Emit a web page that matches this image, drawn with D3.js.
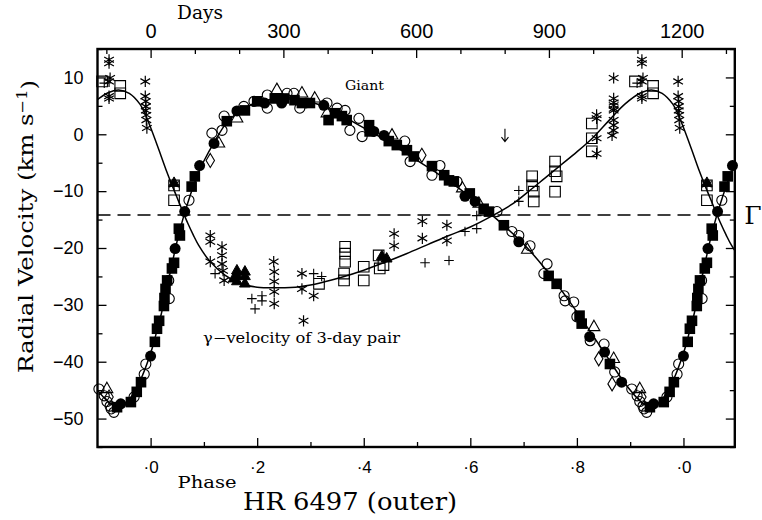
<!DOCTYPE html>
<html>
<head>
<meta charset="utf-8">
<script src="https://cdn.jsdelivr.net/npm/d3@7"></script>
<style>
  html, body { margin: 0; padding: 0; background: #fff; }
  svg { display: block; }
</style>
</head>
<body>
<svg id="chart" width="762" height="520"></svg>
<script>
// Orbital period of the outer orbit (days) and the plotted time window
const period = 1204;
const dayWindow = [-120, 1320];
const velWindow = [-55, 15];

// Tick values
const dayMajor = [0, 300, 600, 900, 1200];
const dayMinor = [-100, 100, 200, 400, 500, 700, 800, 1000, 1100, 1300];
const phaseMajor = [0, 0.2, 0.4, 0.6, 0.8, 1.0];
const phaseMinor = [-0.1, 0.1, 0.3, 0.5, 0.7, 0.9, 1.1];
const velMajor = [-50, -40, -30, -20, -10, 0, 10];
const velMinor = [-55, -45, -35, -25, -15, -5, 5, 15];

// Systemic velocity of the whole system (km/s)
const gammaSystem = -14.2;

// Fitted orbit of the giant: [phase, velocity]
const giantCurve = [
  [0.000, -38.5], [0.010, -35.2], [0.020, -31.6], [0.030, -27.3], [0.040, -22.9],
  [0.050, -18.7], [0.060, -15.1], [0.070, -12.0], [0.080, -9.2], [0.090, -6.7],
  [0.100, -4.7], [0.120, -1.3], [0.140, 1.7], [0.160, 3.6], [0.180, 4.8],
  [0.200, 5.6], [0.230, 6.1], [0.260, 6.2], [0.290, 5.9], [0.320, 5.1],
  [0.350, 3.8], [0.380, 2.2], [0.410, 0.6], [0.440, -1.0], [0.470, -2.8],
  [0.500, -4.6], [0.540, -7.0], [0.580, -9.6], [0.620, -12.6], [0.660, -15.8],
  [0.700, -19.3], [0.740, -23.6], [0.780, -28.6], [0.820, -34.0], [0.860, -39.6],
  [0.890, -43.8], [0.920, -47.0], [0.940, -48.0], [0.960, -46.6], [0.980, -43.4]
];

// Fitted centre-of-mass velocity of the 3-day pair: [phase, velocity]
const pairCurve = [
  [0.000, 1.2], [0.010, -1.3], [0.020, -3.9], [0.030, -6.5], [0.040, -8.9],
  [0.050, -11.2], [0.060, -13.5], [0.070, -15.7], [0.080, -17.7], [0.090, -19.5],
  [0.110, -22.2], [0.140, -24.8], [0.170, -26.3], [0.200, -26.9], [0.240, -27.0],
  [0.280, -26.8], [0.320, -26.1], [0.360, -25.1], [0.400, -23.9], [0.440, -22.5],
  [0.480, -21.0], [0.520, -19.4], [0.560, -17.8], [0.600, -16.3], [0.640, -14.4],
  [0.680, -12.2], [0.710, -10.0], [0.740, -7.7], [0.770, -5.4], [0.800, -3.1],
  [0.830, -0.6], [0.860, 2.4], [0.890, 5.3], [0.920, 7.3], [0.940, 7.8],
  [0.960, 7.2], [0.980, 5.3], [0.990, 3.5]
];

// Giant observations by source: [phase, velocity]
const giantFilledCircles = [
  [0.000, -39.0], [0.046, -20.1], [0.064, -13.6], [0.092, -5.5], [0.119, -1.6],
  [0.162, 4.1], [0.214, 5.5], [0.246, 5.5], [0.325, 5.1], [0.419, 0.5],
  [0.438, -0.2], [0.590, -10.9], [0.609, -11.8], [0.691, -18.9], [0.824, -35.6],
  [0.852, -38.3], [0.884, -43.6], [0.944, -47.4]
];
const giantFilledSquares = [
  [0.008, -36.5], [0.012, -34.2], [0.016, -32.8], [0.025, -30.2], [0.026, -28.8],
  [0.028, -27.2], [0.031, -25.7], [0.040, -23.6], [0.044, -22.6], [0.053, -16.6],
  [0.055, -17.8], [0.077, -9.2], [0.083, -7.4], [0.143, 2.3], [0.177, 4.2],
  [0.200, 5.8], [0.233, 6.3], [0.250, 6.3], [0.270, 6.0], [0.284, 5.5],
  [0.299, 5.5], [0.334, 2.5], [0.346, 3.7], [0.359, 3.2], [0.368, 2.5],
  [0.410, 1.6], [0.411, 0.5], [0.447, -1.2], [0.462, -1.9], [0.481, -2.8],
  [0.494, -3.9], [0.528, -5.6], [0.551, -7.2], [0.560, -8.1], [0.569, -8.3],
  [0.599, -10.4], [0.625, -13.1], [0.635, -13.6], [0.663, -16.0], [0.747, -24.9],
  [0.762, -26.3], [0.805, -31.9], [0.809, -33.3], [0.862, -40.4], [0.937, -48.0],
  [0.963, -47.1], [0.974, -45.3], [0.982, -43.6]
];
const giantOpenCircles = [
  [0.903, -44.8], [0.913, -46.0], [0.918, -47.0], [0.924, -47.8], [0.926, -48.3],
  [0.931, -48.9], [0.969, -46.2], [0.988, -42.2], [0.991, -40.4], [0.871, -41.8],
  [0.851, -36.9], [0.825, -36.3], [0.794, -29.5], [0.778, -29.3], [0.776, -28.4],
  [0.800, -32.1], [0.738, -24.5], [0.744, -22.8], [0.712, -19.6], [0.691, -17.8],
  [0.678, -17.1], [0.650, -13.6], [0.575, -8.3], [0.543, -5.5], [0.528, -7.2],
  [0.487, -4.8], [0.477, -1.2], [0.397, -0.4], [0.391, 2.8], [0.374, 0.7],
  [0.365, 4.2], [0.350, 4.6], [0.331, 5.5], [0.280, 4.6], [0.269, 7.2],
  [0.256, 7.2], [0.219, 6.9], [0.219, 4.6], [0.194, 5.8], [0.175, 4.9],
  [0.138, 3.2], [0.134, 0.7], [0.115, 0.2], [0.072, -11.6], [0.034, -25.7],
  [0.035, -28.9]
];
const giantOpenTriangles = [
  [0.128, -1.6], [0.162, 2.8], [0.237, 7.8], [0.284, 7.2], [0.308, 6.3],
  [0.331, 3.7], [0.453, -0.2], [0.585, -9.5], [0.616, -12.2], [0.707, -20.3],
  [0.832, -33.9], [0.869, -39.5], [0.918, -44.8]
];
const giantOpenDiamonds = [
  [0.112, -4.6], [0.509, -3.7], [0.841, -39.5], [0.866, -43.9], [0.922, -46.2]
];

// Observations of the 3-day pair's centre-of-mass velocity: [phase, velocity]
const pairAsterisks = [
  [0.922, 13.1], [0.922, 12.5], [0.922, 9.3], [0.924, 9.9], [0.922, 6.7], [0.922, 6.3],
  [0.990, 9.3], [0.990, 6.7], [0.991, 5.8], [0.991, 4.9], [0.991, 4.2], [0.992, 3.4],
  [0.992, 2.5], [0.993, 1.1],
  [0.869, 9.9], [0.869, 6.3], [0.869, 5.6], [0.869, 5.1], [0.869, 4.5], [0.869, 4.2],
  [0.869, 2.5], [0.869, 1.6], [0.869, 0.7], [0.866, -0.2],
  [0.837, 3.4], [0.837, 2.8], [0.837, -0.7], [0.837, -3.4],
  [0.510, -15.3], [0.510, -18.3], [0.556, -16.0], [0.556, -18.7], [0.457, -17.5], [0.457, -19.6],
  [0.044, -8.8], [0.112, -17.8], [0.112, -18.9], [0.112, -22.4],
  [0.134, -19.8], [0.134, -21.3], [0.134, -22.8], [0.136, -24.0], [0.138, -25.7],
  [0.231, -22.4], [0.232, -24.2], [0.232, -25.9], [0.232, -27.7], [0.232, -29.8],
  [0.284, -24.5], [0.284, -27.2], [0.306, -28.4], [0.287, -32.8]
];
const pairOpenSquares = [
  [0.909, 9.3], [0.943, 8.5], [0.943, 7.2], [0.044, -9.0], [0.044, -11.6],
  [0.828, 1.9], [0.828, -0.7], [0.828, -3.0], [0.759, -4.8], [0.759, -6.5],
  [0.762, -7.4], [0.759, -10.1], [0.716, -7.4], [0.716, -9.0], [0.719, -10.1],
  [0.719, -11.8], [0.365, -19.8], [0.365, -21.0], [0.365, -22.4], [0.363, -24.5],
  [0.363, -25.7], [0.400, -23.3], [0.400, -25.7], [0.428, -21.3], [0.430, -23.6],
  [0.437, -23.0], [0.316, -26.3]
];
const pairPlus = [
  [0.913, 9.0], [0.691, -9.9], [0.691, -11.8], [0.612, -14.3], [0.612, -16.6],
  [0.590, -17.1], [0.121, -24.5], [0.190, -28.9], [0.209, -28.4], [0.209, -29.3],
  [0.196, -30.7], [0.306, -24.5], [0.321, -25.0], [0.560, -22.2], [0.515, -22.6]
];
const pairFilledTriangles = [
  [0.044, -8.6], [0.162, -24.0], [0.162, -24.9], [0.162, -25.9], [0.177, -24.2],
  [0.177, -25.0], [0.177, -26.3], [0.156, -25.4], [0.434, -21.5], [0.443, -21.9]
];

// Epoch marker: [phase, velocity at arrow tip]
const epochArrows = [[0.665, -1.3]];

const W = 762, H = 520;
const margin = { left: 97.5, right: 27.2, top: 49, bottom: 73 };

const svg = d3.select("#chart");

const x = d3.scaleLinear()
  .domain(dayWindow.map(d => d / period))
  .range([margin.left, W - margin.right]);
const xDays = d3.scaleLinear().domain(dayWindow).range(x.range());
const y = d3.scaleLinear().domain(velWindow).range([H - margin.bottom, margin.top]);

const [p0, p1] = x.domain();

// Repeat phased data one cycle either side so the whole window is filled
function wrap(points) {
  const out = [];
  points.forEach(([p, v]) => {
    [-1, 0, 1].forEach(k => {
      const q = p + k;
      if (q >= p0 - 0.003 && q <= p1 + 0.003) out.push([q, v]);
    });
  });
  return out;
}
function wrapCurve(points) {
  const out = [];
  [-1, 0, 1].forEach(k => points.forEach(([p, v]) => out.push([p + k, v])));
  return out.filter(([p]) => p >= p0 - 0.06 && p <= p1 + 0.06);
}

svg.append("defs").append("clipPath").attr("id", "plotClip")
  .append("rect")
  .attr("x", x.range()[0]).attr("y", margin.top)
  .attr("width", x.range()[1] - x.range()[0])
  .attr("height", H - margin.bottom - margin.top);

const sans = "'Liberation Sans', Arial, Helvetica, sans-serif";
const serif = "'DejaVu Serif', 'Century Schoolbook', serif";

// Systemic velocity line
svg.append("line")
  .attr("x1", x.range()[0]).attr("x2", x.range()[1])
  .attr("y1", y(gammaSystem)).attr("y2", y(gammaSystem))
  .attr("stroke", "#000").attr("stroke-width", 1.3)
  .attr("stroke-dasharray", "13,7");

// Fitted curves
const line = d3.line().x(d => x(d[0])).y(d => y(d[1])).curve(d3.curveCatmullRom.alpha(0.5));
const curves = svg.append("g").attr("clip-path", "url(#plotClip)");
[giantCurve, pairCurve].forEach(c => {
  curves.append("path")
    .attr("d", line(wrapCurve(c)))
    .attr("fill", "none").attr("stroke", "#000").attr("stroke-width", 1.5);
});

// Marker shapes
const c30 = Math.cos(Math.PI / 6), s30 = 0.5, ra = 5.6;
const shapes = {
  filledCircle: { d: d3.symbol(d3.symbolCircle, 95)(), fill: "#000", stroke: "none", w: 1 },
  filledSquare: { d: "M-5.3,-5.3H5.3V5.3H-5.3Z", fill: "#000", stroke: "none", w: 1 },
  openCircle: { d: d3.symbol(d3.symbolCircle, 80)(), fill: "none", stroke: "#000", w: 1.1 },
  openTriangle: { d: "M0,-6.8L5.9,3.6H-5.9Z", fill: "none", stroke: "#000", w: 1.1 },
  openDiamond: { d: "M0,-7L4.2,0L0,7L-4.2,0Z", fill: "none", stroke: "#000", w: 1.1 },
  openSquare: { d: "M-5.3,-5.3H5.3V5.3H-5.3Z", fill: "none", stroke: "#000", w: 1.1 },
  filledTriangle: { d: "M0,-6.3L5.4,3.2H-5.4Z", fill: "#000", stroke: "#000", w: 1 },
  plus: { d: "M-4.8,0H4.8M0,-4.8V4.8", fill: "none", stroke: "#000", w: 1.1 },
  asterisk: {
    d: `M0,${-ra}V${ra}M${-ra * c30},${-ra * s30}L${ra * c30},${ra * s30}M${-ra * c30},${ra * s30}L${ra * c30},${-ra * s30}`,
    fill: "none", stroke: "#000", w: 1.2
  }
};

const marks = svg.append("g");
function drawSet(points, shapeName) {
  const s = shapes[shapeName];
  marks.append("g").selectAll("path")
    .data(wrap(points))
    .join("path")
    .attr("transform", d => `translate(${x(d[0])},${y(d[1])})`)
    .attr("d", s.d)
    .attr("fill", s.fill)
    .attr("stroke", s.stroke)
    .attr("stroke-width", s.w);
}
drawSet(pairAsterisks, "asterisk");
drawSet(pairPlus, "plus");
drawSet(pairOpenSquares, "openSquare");
drawSet(pairFilledTriangles, "filledTriangle");
drawSet(giantOpenCircles, "openCircle");
drawSet(giantOpenTriangles, "openTriangle");
drawSet(giantOpenDiamonds, "openDiamond");
drawSet(giantFilledSquares, "filledSquare");
drawSet(giantFilledCircles, "filledCircle");

// Epoch arrow
const arrows = svg.append("g").selectAll("g").data(wrap(epochArrows)).join("g")
  .attr("transform", d => `translate(${x(d[0])},${y(d[1])})`);
arrows.append("path")
  .attr("d", "M0,0V-13M-3.5,-4.5L0,0L3.5,-4.5")
  .attr("fill", "none").attr("stroke", "#000").attr("stroke-width", 1.1);

// Axes with inward ticks
function styleAxis(g, size) {
  g.select(".domain").remove();
  g.selectAll(".tick line").attr("stroke", "#000").attr("stroke-width", 1.3);
  g.selectAll(".tick text").attr("fill", "#000")
    .style("font-family", sans).style("font-size", size + "px");
}
const yBottom = H - margin.bottom, yTop = margin.top;
const xLeft = x.range()[0], xRight = x.range()[1];

svg.append("g").attr("transform", `translate(0,${yBottom})`)
  .call(d3.axisBottom(x).tickValues(phaseMajor).tickSizeInner(-9).tickSizeOuter(0).tickPadding(14)
    .tickFormat(d => "\u00b7" + (Math.round(d * 10) % 10)))
  .call(g => styleAxis(g, 17));
svg.append("g").attr("transform", `translate(0,${yBottom})`)
  .call(d3.axisBottom(x).tickValues(phaseMinor.filter(p => p > p0 && p < p1)).tickSizeInner(-5).tickSizeOuter(0).tickFormat(""))
  .call(g => styleAxis(g, 10));

svg.append("g").attr("transform", `translate(0,${yTop})`)
  .call(d3.axisTop(xDays).tickValues(dayMajor).tickSizeInner(-9).tickSizeOuter(0).tickPadding(11)
    .tickFormat(d3.format("d")))
  .call(g => styleAxis(g, 20));
svg.append("g").attr("transform", `translate(0,${yTop})`)
  .call(d3.axisTop(xDays).tickValues(dayMinor).tickSizeInner(-5).tickSizeOuter(0).tickFormat(""))
  .call(g => styleAxis(g, 10));

svg.append("g").attr("transform", `translate(${xLeft},0)`)
  .call(d3.axisLeft(y).tickValues(velMajor).tickSizeInner(-9).tickSizeOuter(0).tickPadding(14)
    .tickFormat(d3.format("d")))
  .call(g => styleAxis(g, 18));
svg.append("g").attr("transform", `translate(${xLeft},0)`)
  .call(d3.axisLeft(y).tickValues(velMinor).tickSizeInner(-5).tickSizeOuter(0).tickFormat(""))
  .call(g => styleAxis(g, 10));
svg.append("g").attr("transform", `translate(${xRight},0)`)
  .call(d3.axisRight(y).tickValues(velMajor).tickSizeInner(-9).tickSizeOuter(0).tickFormat(""))
  .call(g => styleAxis(g, 10));
svg.append("g").attr("transform", `translate(${xRight},0)`)
  .call(d3.axisRight(y).tickValues(velMinor).tickSizeInner(-5).tickSizeOuter(0).tickFormat(""))
  .call(g => styleAxis(g, 10));

// Frame
svg.append("rect")
  .attr("x", xLeft).attr("y", yTop)
  .attr("width", xRight - xLeft).attr("height", yBottom - yTop)
  .attr("fill", "none").attr("stroke", "#000").attr("stroke-width", 2.4);

// Titles and annotations
function label(txt, xPos, yPos, size, len, anchor) {
  return svg.append("text").attr("x", xPos).attr("y", yPos)
    .attr("text-anchor", anchor || "middle")
    .attr("textLength", len).attr("lengthAdjust", "spacingAndGlyphs")
    .style("font-family", serif).style("font-size", size + "px").text(txt);
}
label("Days", 200, 19, 18, 46);
label("Phase", 207, 488, 17, 59);
label("HR 6497 (outer)", 350, 510, 25, 214);
label("Giant", 364.5, 90, 13.5, 39);
label("\u03b3\u2212velocity of 3-day pair", 203, 343, 14.5, 197, "start");

// Vertical axis title, running from y = 373 up to y = 80
const yTitle = svg.append("text")
  .attr("transform", `translate(33,373) rotate(-90)`)
  .attr("text-anchor", "start")
  .attr("textLength", 293).attr("lengthAdjust", "spacingAndGlyphs")
  .style("font-family", serif).style("font-size", "21px");
yTitle.append("tspan").text("Radial Velocity (km s");
yTitle.append("tspan").attr("dy", "-0.45em").style("font-size", "14px").text("\u22121");
yTitle.append("tspan").attr("dy", "0.45em").text(")");

svg.append("text").attr("x", 753).attr("y", y(gammaSystem) + 9).attr("text-anchor", "middle")
  .style("font-family", serif).style("font-size", "25px").text("\u0393");
</script>
</body>
</html>
